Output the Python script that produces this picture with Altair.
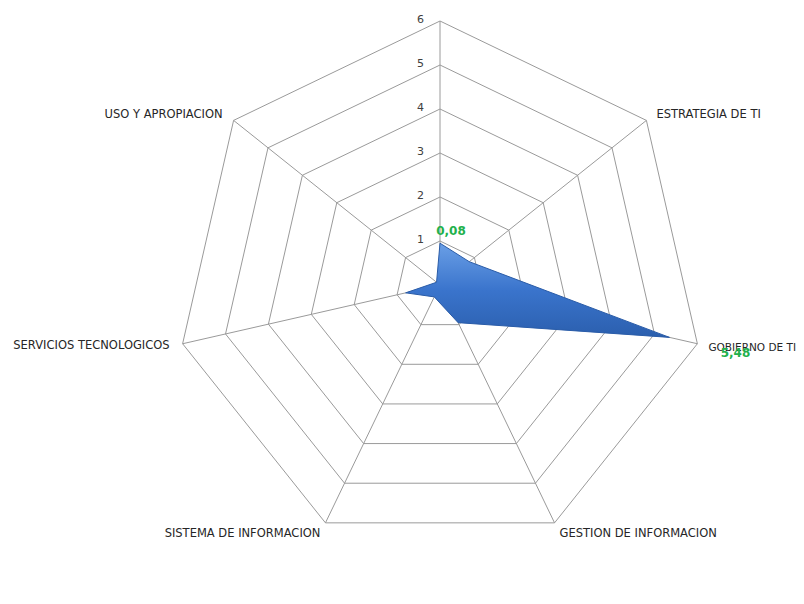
import math
import altair as alt
import pandas as pd

# ---- data ----
categories = ["", "ESTRATEGIA DE TI", "GOBIERNO DE TI", "GESTION DE INFORMACION",
              "SISTEMA DE INFORMACION", "SERVICIOS TECNOLOGICOS", "USO Y APROPIACION"]
values = [0.95, 0.85, 5.35, 0.95, 0.30, 0.80, 0.10]
data_labels = ["0,08", "", "5,48", "", "", "", ""]
levels = [1, 2, 3, 4, 5, 6]
tick_labels = ["1", "2", "3", "4", "5", "6"]

N = len(categories)
RMAX = max(levels)

series = pd.DataFrame({"idx": list(range(N)), "category": categories,
                       "value": values, "dlabel": data_labels})
grid = pd.DataFrame([{"level": lv, "idx": i} for lv in levels for i in range(N)])
spokes = pd.DataFrame({"idx": list(range(N)), "category": categories, "r": [RMAX] * N})
ticks = pd.DataFrame({"level": levels, "tlabel": tick_labels})

ANG = f"PI/2 - datum.idx*2*PI/{N}"

# page geometry: view at page (8,8); centre at page (440,285); 44 px per unit
W, H = 788, 580
PX = 44.0
cx, cy = 432.0, 277.0
xs = alt.Scale(domain=[-cx / PX, (W - cx) / PX], nice=False, zero=False)
ys = alt.Scale(domain=[-(H - cy) / PX, cy / PX], nice=False, zero=False)
X = lambda f: alt.X(f, type="quantitative", scale=xs, axis=None)
Y = lambda f: alt.Y(f, type="quantitative", scale=ys, axis=None)

FONT = "DejaVu Sans"

grid_layer = alt.Chart(grid).transform_calculate(
    a=ANG, gx="datum.level*cos(datum.a)", gy="datum.level*sin(datum.a)"
).mark_line(interpolate="linear-closed", color="#9a9a9a", strokeWidth=1).encode(
    x=X("gx"), y=Y("gy"), detail="level:N", order="idx:Q"
)

spoke_layer = alt.Chart(spokes).transform_calculate(
    a=ANG, sx="datum.r*cos(datum.a)", sy="datum.r*sin(datum.a)", z="0"
).mark_rule(color="#9a9a9a", strokeWidth=1).encode(
    x=X("z"), y=Y("z"), x2="sx:Q", y2="sy:Q"
)

area_layer = alt.Chart(series).transform_calculate(
    a=ANG, px="datum.value*cos(datum.a)", py="datum.value*sin(datum.a)"
).mark_line(
    interpolate="linear-closed",
    fill=alt.Gradient(gradient="linear", x1=0, y1=0, x2=0, y2=1,
                      stops=[alt.GradientStop(color="#6a9fe6", offset=0),
                             alt.GradientStop(color="#3a74cc", offset=0.5),
                             alt.GradientStop(color="#2b5fae", offset=1)]),
    stroke="#2a5ca8", strokeWidth=1, fillOpacity=1
).encode(x=X("px"), y=Y("py"), order="idx:Q")

tick_layer = alt.Chart(ticks).transform_calculate(
    tx="0", ty="datum.level"
).mark_text(align="right", baseline="middle", dx=-16, dy=-1, fontSize=11,
            font=FONT, color="#404040").encode(
    x=X("tx"), y=Y("ty"), text="tlabel:N"
)

# category label placements (align, dx, dy, size) per category index
placements = {
    1: ("left", 10, -5, 11.5),
    2: ("left", 11, 4, 10.5),
    3: ("left", 5, 11, 11.5),
    4: ("right", -5, 11, 11.5),
    5: ("right", -13, 2, 11.5),
    6: ("right", -11, -5, 11.5),
}
cat_layers = []
for i, (al, dx, dy, fs) in placements.items():
    cat_layers.append(
        alt.Chart(spokes).transform_filter(f"datum.idx == {i}").transform_calculate(
            a=ANG, sx="datum.r*cos(datum.a)", sy="datum.r*sin(datum.a)"
        ).mark_text(align=al, baseline="middle", dx=dx, dy=dy, fontSize=fs,
                    font=FONT, color="#262626").encode(
            x=X("sx"), y=Y("sy"), text="category:N"
        )
    )

label_place = {0: (11, -12), 2: (66, 16)}
dl_layers = []
for i, (dx, dy) in label_place.items():
    dl_layers.append(
        alt.Chart(series).transform_filter(f"datum.idx == {i}").transform_calculate(
            a=ANG, px="datum.value*cos(datum.a)", py="datum.value*sin(datum.a)"
        ).mark_text(align="center", baseline="middle", dx=dx, dy=dy, fontSize=12,
                    fontWeight="bold", font=FONT, color="#22b14c").encode(
            x=X("px"), y=Y("py"), text="dlabel:N"
        )
    )

chart = alt.layer(grid_layer, spoke_layer, area_layer, tick_layer, *cat_layers, *dl_layers).properties(
    width=W, height=H, autosize=alt.AutoSizeParams(type="none"), padding=0,
    background="white"
).configure_view(stroke=None)

chart.save("out.html", embed_options={"renderer": "svg", "actions": False})
